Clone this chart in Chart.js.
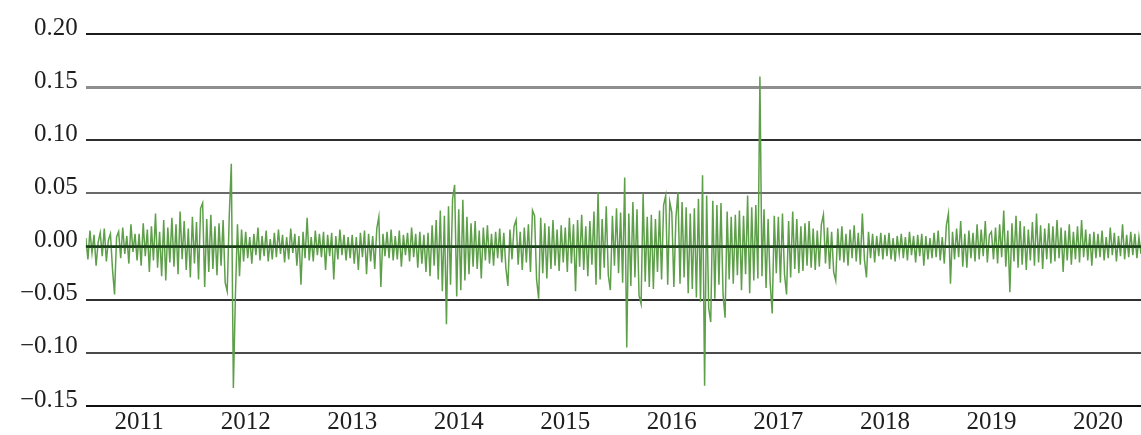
<!DOCTYPE html>
<html>
<head>
<meta charset="utf-8">
<script src="https://cdn.jsdelivr.net/npm/chart.js@4"></script>
<style>
  html, body { margin: 0; padding: 0; background: #fff; }
  #wrap { width: 1141px; height: 435px; }
</style>
</head>
<body>
<div id="wrap"><canvas id="c"></canvas></div>
<script>
// Weekly log returns, starting mid-2010, one array per calendar year
const r2010 = [.008,-.012,.015,-.006,.011,-.018,.004,.013,-.009,.017,-.014,.006,.012,-.021,-.045,.009,.014,-.011,.018,-.007,.01,-.016,.021,-.005,.012,-.013];
const r2011 = [.012,-.018,.022,-.009,.016,-.024,.019,-.013,.031,-.02,.014,-.028,.025,-.032,.018,-.015,.027,-.019,.021,-.026,.033,-.012,.024,-.022,.017,-.029,.028,-.016,.023,-.031,.036,.041,-.038,.026,-.024,.03,-.021,.019,-.027,.022,-.018,.025,-.034,-.042,.029,.078,-.133,-.046,.021,-.028,.016,-.014];
const r2012 = [.014,-.011,.009,-.016,.012,-.008,.018,-.013,.01,-.009,.015,-.014,.007,-.012,.013,-.01,.016,-.007,.011,-.015,.009,-.012,.017,-.006,.012,-.018,.01,-.036,.014,-.011,.027,-.013,.009,-.014,.015,-.008,.012,-.01,.014,-.022,.011,-.009,.013,-.031,.01,-.012,.016,-.008,.011,-.013,.009,-.011];
const r2013 = [.011,-.016,.009,-.022,.013,-.01,.015,-.026,.012,-.014,.01,-.021,.017,.028,-.038,.012,-.009,.014,-.011,.016,-.013,.01,-.012,.015,-.019,.011,-.008,.013,-.014,.018,-.01,.012,-.02,.014,-.016,.011,-.024,.013,-.028,.02,-.018,.025,-.031,.034,-.042,.029,-.073,.038,-.036,.045,.058,-.047];
const r2014 = [.035,-.041,.044,-.032,.028,-.026,.022,-.019,.024,-.021,.015,-.03,.018,-.013,.02,-.016,.012,-.018,.014,-.011,.017,-.015,.013,-.02,-.037,.016,-.012,.019,.025,-.017,.014,-.022,.018,-.015,.021,-.024,.034,.029,-.031,-.049,.027,-.025,.022,-.03,.019,-.021,.025,-.018,.016,-.023,.02,-.015];
const r2015 = [.018,-.024,.027,-.016,.021,-.042,.025,-.019,.03,-.022,.019,-.028,.024,-.017,.033,-.036,.051,-.031,.026,-.02,.038,-.027,-.041,.029,-.018,.036,-.025,.032,-.034,.065,-.095,.031,-.037,.042,-.029,.035,-.046,-.054,.05,-.033,.028,-.038,.03,-.04,.026,-.024,.034,-.031,.039,.048,-.036,.042];
const r2016 = [.032,-.038,.027,.051,-.035,.042,-.029,.037,-.044,.031,-.04,.036,-.048,.045,-.052,.067,-.131,.048,-.058,-.071,.043,-.049,.039,-.036,.041,-.045,-.067,.033,-.031,.028,-.035,.03,-.027,.034,-.041,.029,-.026,.048,-.044,.037,-.032,.039,-.03,.16,-.028,.035,-.039,.026,-.034,-.063,.029,-.025];
const r2017 = [.028,-.034,.031,-.026,-.045,.024,-.029,.033,-.021,.026,-.025,.019,-.023,.022,-.018,.024,-.02,.017,-.022,.015,-.019,.021,.03,-.016,.018,-.021,.014,-.024,-.032,.017,-.013,.019,-.015,.012,-.018,.016,-.011,.02,-.014,.013,-.017,.031,-.012,-.029,.014,-.011,.012,-.015,.01,-.009,.013,-.012];
const r2018 = [.011,-.009,.013,-.012,.008,-.014,.01,-.007,.012,-.011,.009,-.013,.014,-.008,.01,-.015,.011,-.009,.012,-.018,.01,-.012,.008,-.011,.013,-.01,.015,-.013,.009,-.016,.02,.031,-.035,.014,-.012,.017,-.01,.024,-.019,.012,-.02,.015,-.011,.013,-.014,.021,-.012,.016,-.009,.024,-.015,.011];
const r2019 = [.014,-.012,.018,-.016,.021,-.01,.034,-.019,.015,-.043,.022,-.014,.029,-.02,.024,-.017,.019,-.022,.016,-.013,.023,-.018,.031,-.015,.02,-.021,.017,-.012,.022,-.016,.019,-.014,.025,-.011,.018,-.024,.015,-.013,.021,-.017,.014,-.012,.019,-.015,.025,-.01,.016,-.013,.012,-.018,.014,-.011];
const r2020 = [.012,-.01,.015,-.013,.009,-.011,.018,-.008,.013,-.014,.01,-.009,.021,-.012,.011,-.01,.014,-.008,.012,-.011,.009,-.007];

const yearTicks = [2011, 2012, 2013, 2014, 2015, 2016, 2017, 2018, 2019, 2020];
const yTicks = [-0.15, -0.10, -0.05, 0.00, 0.05, 0.10, 0.15, 0.20];

// time axis: weeks counted from mid-2010
const firstWeek = 2010.5;
const weeksPerYear = 52;
const returns = [].concat(r2010, r2011, r2012, r2013, r2014, r2015, r2016, r2017, r2018, r2019, r2020);
const points = returns.map((v, i) => ({ x: firstWeek + i / weeksPerYear, y: v }));

const gridStyle = {
  '0.20':  { color: '#1c1c1c', width: 2 },
  '0.15':  { color: '#8e8e8e', width: 3 },
  '0.10':  { color: '#2e2e2e', width: 2 },
  '0.05':  { color: '#6a6a6a', width: 2 },
  '0.00':  { color: '#1d3d1d', width: 2 },
  '-0.05': { color: '#303030', width: 2 },
  '-0.10': { color: '#4a4a4a', width: 2 },
  '-0.15': { color: '#101010', width: 2 }
};
const styleFor = v => gridStyle[v.toFixed(2)] || { color: '#444', width: 2 };

// zero line drawn on top of the series
const zeroLine = {
  id: 'zeroLine',
  afterDatasetsDraw(chart) {
    const { ctx, chartArea, scales } = chart;
    const y = scales.y.getPixelForValue(0);
    ctx.save();
    ctx.strokeStyle = '#173d17';
    ctx.lineWidth = 2.5;
    ctx.beginPath();
    ctx.moveTo(chartArea.left, y);
    ctx.lineTo(chartArea.right, y);
    ctx.stroke();
    ctx.restore();
  }
};

const serif = "'Liberation Serif', 'Times New Roman', serif";

new Chart(document.getElementById('c'), {
  type: 'line',
  data: {
    datasets: [{
      data: points,
      borderColor: '#5e9f4a',
      borderWidth: 1.5,
      pointRadius: 0,
      tension: 0,
      fill: false
    }]
  },
  options: {
    responsive: true,
    maintainAspectRatio: false,
    animation: false,
    layout: { padding: { left: 12, right: 0, top: 34, bottom: -4 } },
    plugins: { legend: { display: false }, tooltip: { enabled: false } },
    scales: {
      x: {
        type: 'linear',
        min: firstWeek,
        max: points[points.length - 1].x,
        afterBuildTicks(axis) { axis.ticks = yearTicks.map(v => ({ value: v })); },
        grid: { display: false, drawTicks: false },
        border: { display: false },
        ticks: {
          color: '#1e1e1e',
          font: { family: serif, size: 25, lineHeight: 1.0 },
          padding: 4,
          maxRotation: 0,
          autoSkip: false,
          callback: v => String(v)
        }
      },
      y: {
        min: -0.15,
        max: 0.20,
        afterBuildTicks(axis) { axis.ticks = yTicks.map(v => ({ value: v })); },
        grid: {
          drawTicks: false,
          color: c => styleFor(c.tick.value).color,
          lineWidth: c => styleFor(c.tick.value).width
        },
        border: { display: false },
        ticks: {
          color: '#1e1e1e',
          font: { family: serif, size: 25 },
          padding: 8,
          labelOffset: -6,
          callback: v => (v < 0 ? '\u2212' : '') + Math.abs(v).toFixed(2)
        }
      }
    }
  },
  plugins: [zeroLine]
});
</script>
</body>
</html>
